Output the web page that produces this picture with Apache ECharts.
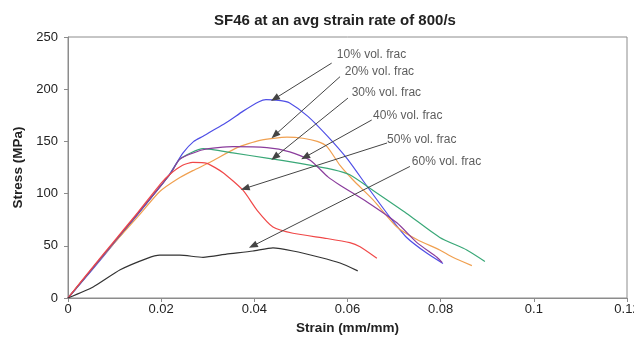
<!DOCTYPE html>
<html>
<head>
<meta charset="utf-8">
<script src="https://cdn.jsdelivr.net/npm/echarts@6/dist/echarts.min.js"></script>
<style>
  html, body { margin: 0; padding: 0; background: #fff; }
  #chart { width: 634px; height: 347px; }
</style>
</head>
<body>
<div id="chart"></div>
<script>
// strain (mm/mm), stress (MPa) pairs
const vf10 = [[0,0],[0.005,26],[0.01,53],[0.015,80],[0.02,108],[0.022,120],[0.0247,139],[0.027,150],[0.029,155],[0.034,168],[0.0376,179],[0.041,188],[0.0425,190],[0.0457,189],[0.0475,187],[0.0515,174],[0.0557,155],[0.06,133],[0.0642,107],[0.069,78],[0.0727,58],[0.077,43],[0.0805,33]];
const vf20 = [[0,0],[0.005,27],[0.01,53],[0.015,78],[0.0197,102],[0.0235,114],[0.0268,122],[0.0305,130],[0.0363,144],[0.0412,151],[0.047,154],[0.0504,153],[0.0535,150],[0.0556,145],[0.0584,127],[0.0612,113],[0.0655,94],[0.0706,68],[0.0749,56],[0.0798,46],[0.0826,39],[0.0867,31]];
const vf30 = [[0,0],[0.005,27],[0.01,54],[0.015,81],[0.02,108],[0.022,119],[0.024,133],[0.029,143],[0.0354,139],[0.0427,134],[0.0498,129],[0.0569,123],[0.0605,118],[0.0655,103],[0.0727,81],[0.0798,58],[0.0856,46],[0.0895,35]];
const vf40 = [[0,0],[0.005,27],[0.01,54],[0.015,81],[0.02,108],[0.022,119],[0.024,133],[0.029,142],[0.0354,145],[0.0427,144],[0.0476,140],[0.052,132],[0.0558,116],[0.0584,108],[0.0642,92],[0.0706,72],[0.0749,53],[0.0792,39],[0.0803,34]];
const vf50 = [[0,0],[0.005,28],[0.01,55],[0.015,82],[0.02,110],[0.022,119],[0.0245,127],[0.0268,130],[0.0298,129],[0.0333,120],[0.0376,103],[0.0406,84],[0.044,68],[0.0483,62],[0.0556,57],[0.0605,53],[0.0627,49],[0.0663,38]];
const vf60 = [[0,0],[0.0054,10.5],[0.0112,27],[0.017,38],[0.0197,41],[0.024,41],[0.029,39],[0.034,42],[0.0397,45],[0.044,48],[0.0483,45],[0.054,39],[0.0584,33.5],[0.0622,26]];

const labelNames = ['10% vol. frac','20% vol. frac','30% vol. frac','40% vol. frac','50% vol. frac','60% vol. frac'];
const labelPos = [[0.0577,232.8],[0.0594,216.5],[0.0609,196.4],[0.0655,174.3],[0.0685,151.3],[0.0738,130.3]];
const arrowFrom = [[0.0566,225],[0.0584,212],[0.0601,191.5],[0.0652,170.5],[0.0685,148.5],[0.0734,126]];
const arrowTo = [[0.0444,191],[0.0444,156],[0.0444,135],[0.0509,135],[0.038,105],[0.0397,50]];

const font = 'Liberation Sans, Arial, sans-serif';
const chart = echarts.init(document.getElementById('chart'));

const curve = (name, data, color) => ({
  name: name,
  type: 'line',
  data: data,
  showSymbol: false,
  smooth: 0.2,
  lineStyle: { color: color, width: 1.2 },
  itemStyle: { color: color },
  animation: false
});

chart.setOption({
  animation: false,
  title: {
    text: 'SF46 at an avg strain rate of 800/s',
    left: 330,
    textAlign: 'center',
    top: 8,
    textStyle: { fontFamily: font, fontSize: 15, fontWeight: 'bold', color: '#222' }
  },
  grid: { left: 68, right: 7, top: 37, bottom: 49, outerBoundsMode: 'none', show: true, borderColor: '#8c8c8c', borderWidth: 1 },
  xAxis: {
    type: 'value',
    min: 0, max: 0.12, interval: 0.02,
    name: 'Strain (mm/mm)',
    nameLocation: 'middle',
    nameGap: 18,
    nameTextStyle: { fontFamily: font, fontSize: 13.5, fontWeight: 'bold', color: '#222' },
    axisLine: { show: true, lineStyle: { color: '#8c8c8c' } },
    axisTick: { show: true, length: 4, lineStyle: { color: '#8c8c8c' } },
    axisLabel: { fontFamily: font, fontSize: 13, color: '#222', margin: 5 },
    splitLine: { show: false }
  },
  yAxis: {
    type: 'value',
    min: 0, max: 250, interval: 50,
    name: 'Stress (MPa)',
    nameLocation: 'middle',
    nameGap: 40,
    nameTextStyle: { fontFamily: font, fontSize: 13.5, fontWeight: 'bold', color: '#222' },
    axisLine: { show: true, lineStyle: { color: '#8c8c8c' } },
    axisTick: { show: true, length: 4, lineStyle: { color: '#8c8c8c' } },
    axisLabel: { fontFamily: font, fontSize: 13, color: '#222', margin: 10 },
    splitLine: { show: false }
  },
  series: [
    curve('10% vol. frac', vf10, '#4f4fe6'),
    curve('20% vol. frac', vf20, '#f0a050'),
    curve('30% vol. frac', vf30, '#3aa878'),
    curve('40% vol. frac', vf40, '#8a3c9c'),
    curve('50% vol. frac', vf50, '#f04848'),
    curve('60% vol. frac', vf60, '#333333'),
    {
      name: 'annotations',
      type: 'scatter',
      symbolSize: 0,
      silent: true,
      animation: false,
      data: labelPos.map((p, i) => ({ value: p, name: labelNames[i] })),
      label: {
        show: true,
        position: 'right',
        distance: 0,
        formatter: p => p.name,
        fontFamily: font,
        fontSize: 12,
        color: '#333'
      },
      markLine: {
        silent: true,
        animation: false,
        symbol: ['none', 'triangle'],
        symbolSize: [7, 9],
        label: { show: false },
        lineStyle: { color: '#444', width: 1, type: 'solid' },
        emphasis: { disabled: true },
        data: arrowFrom.map((p, i) => [{ coord: p }, { coord: arrowTo[i] }])
      }
    }
  ]
});
</script>
</body>
</html>
